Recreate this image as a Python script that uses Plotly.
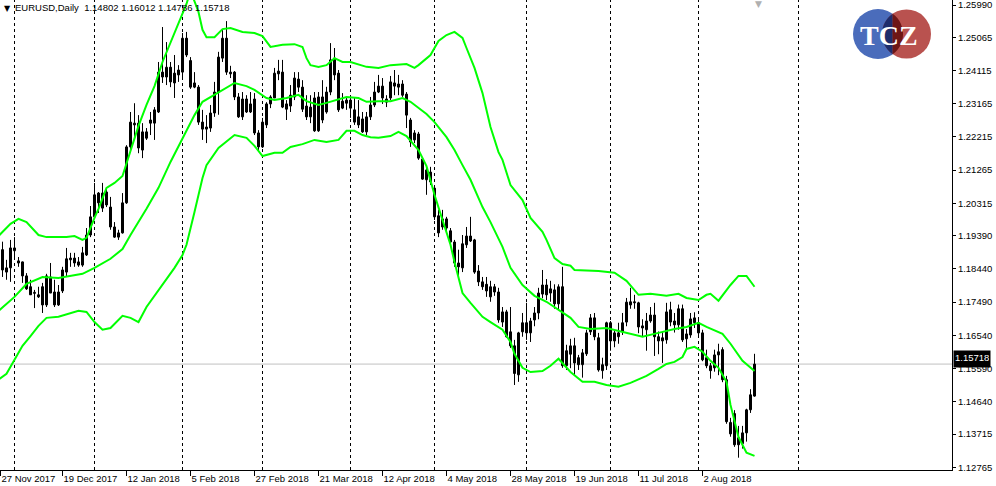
import numpy as np
import plotly.graph_objects as go

# ---------------- data ----------------
bars = list(range(1, 190))  # daily bars, 27 Nov 2017 = bar 0

opens = [1.1899, 1.1835, 1.1847, 1.1896, 1.1861, 1.1864, 1.1824, 1.1793, 1.1774, 1.1764,
         1.1793, 1.1741, 1.1821, 1.1778, 1.1741, 1.1781, 1.1835, 1.1870, 1.1875, 1.1864,
         1.1855, 1.1884, 1.1941, 1.1993, 1.2061, 1.2018, 1.2064, 1.2021, 1.1964, 1.1935,
         1.1947, 1.2033, 1.2193, 1.2256, 1.2261, 1.2184, 1.2236, 1.2270, 1.2261, 1.2293,
         1.2407, 1.2393, 1.2421, 1.2404, 1.2399, 1.2407, 1.2504, 1.2440, 1.2364, 1.2364,
         1.2264, 1.2244, 1.2247, 1.2290, 1.2350, 1.2447, 1.2504, 1.2402, 1.2407, 1.2336,
         1.2279, 1.2330, 1.2293, 1.2330, 1.2233, 1.2193, 1.2256, 1.2316, 1.2333, 1.2402,
         1.2407, 1.2316, 1.2310, 1.2336, 1.2387, 1.2364, 1.2310, 1.2279, 1.2333, 1.2239,
         1.2336, 1.2293, 1.2350, 1.2447, 1.2404, 1.2304, 1.2318, 1.2327, 1.2299, 1.2279,
         1.2273, 1.2236, 1.2279, 1.2313, 1.2350, 1.2333, 1.2321, 1.2333, 1.2376, 1.2364,
         1.2373, 1.2344, 1.2270, 1.2213, 1.2230, 1.2158, 1.2099, 1.2121, 1.2075, 1.1996,
         1.1964, 1.1987, 1.1953, 1.1921, 1.1861, 1.1847, 1.1913, 1.1938, 1.1927, 1.1838,
         1.1807, 1.1800, 1.1764, 1.1778, 1.1778, 1.1692, 1.1721, 1.1664, 1.1624, 1.1541,
         1.1664, 1.1690, 1.1661, 1.1698, 1.1718, 1.1772, 1.1798, 1.1775, 1.1784, 1.1744,
         1.1793, 1.1567, 1.1600, 1.1624, 1.1590, 1.1570, 1.1601, 1.1664, 1.1704, 1.1647,
         1.1553, 1.1567, 1.1690, 1.1638, 1.1650, 1.1664, 1.1692, 1.1741, 1.1747, 1.1747,
         1.1681, 1.1670, 1.1695, 1.1712, 1.1650, 1.1638, 1.1641, 1.1727, 1.1695, 1.1684,
         1.1730, 1.1644, 1.1655, 1.1690, 1.1690, 1.1661, 1.1590, 1.1567, 1.1561, 1.1598,
         1.1613, 1.1527, 1.1372, 1.1430, 1.1361, 1.1344, 1.1375, 1.1441, 1.14802]
highs = [1.1922, 1.1870, 1.1927, 1.1935, 1.1878, 1.1865, 1.1832, 1.1813, 1.1784, 1.1793,
         1.1804, 1.1830, 1.1861, 1.1813, 1.1798, 1.1850, 1.1904, 1.1890, 1.1890, 1.1878,
         1.1907, 1.1961, 1.2024, 1.2090, 1.2064, 1.2090, 1.2075, 1.2050, 1.1978, 1.1956,
         1.2061, 1.2198, 1.2293, 1.2318, 1.2284, 1.2261, 1.2247, 1.2293, 1.2307, 1.2436,
         1.2536, 1.2493, 1.2436, 1.2456, 1.2427, 1.2519, 1.2522, 1.2450, 1.2407, 1.2370,
         1.2299, 1.2284, 1.2313, 1.2379, 1.2465, 1.2528, 1.2553, 1.2425, 1.2410, 1.2347,
         1.2350, 1.2341, 1.2350, 1.2347, 1.2241, 1.2276, 1.2321, 1.2341, 1.2419, 1.2442,
         1.2442, 1.2327, 1.2370, 1.2407, 1.2407, 1.2384, 1.2341, 1.2341, 1.2350, 1.2350,
         1.2384, 1.2365, 1.2490, 1.2476, 1.2413, 1.2347, 1.2333, 1.2333, 1.2333, 1.2327,
         1.2293, 1.2293, 1.2336, 1.2379, 1.2399, 1.2390, 1.2341, 1.2396, 1.2413, 1.2399,
         1.2384, 1.2350, 1.2276, 1.2241, 1.2236, 1.2161, 1.2141, 1.2136, 1.2078, 1.2013,
         1.2013, 1.1993, 1.1961, 1.1927, 1.1899, 1.1941, 1.1964, 1.1993, 1.1930, 1.1855,
         1.1821, 1.1821, 1.1810, 1.1801, 1.1790, 1.1735, 1.1727, 1.1735, 1.1641, 1.1664,
         1.1718, 1.1747, 1.1704, 1.1735, 1.1790, 1.1841, 1.1815, 1.1810, 1.1800, 1.1800,
         1.1850, 1.1627, 1.1644, 1.1647, 1.1598, 1.1615, 1.1670, 1.1715, 1.1718, 1.1661,
         1.1590, 1.1693, 1.1695, 1.1672, 1.1690, 1.1718, 1.1761, 1.1790, 1.1770, 1.1750,
         1.1700, 1.1718, 1.1735, 1.1747, 1.1665, 1.1665, 1.1747, 1.1750, 1.1718, 1.1742,
         1.1742, 1.1672, 1.1718, 1.1720, 1.1700, 1.1670, 1.1613, 1.1575, 1.1613, 1.1630,
         1.1620, 1.1538, 1.1418, 1.1440, 1.1395, 1.1395, 1.1444, 1.1500, 1.16012]
lows = [1.1821, 1.1813, 1.1807, 1.1870, 1.1850, 1.1804, 1.1784, 1.1770, 1.1732, 1.1761,
        1.1718, 1.1735, 1.1775, 1.1735, 1.1738, 1.1775, 1.1821, 1.1850, 1.1850, 1.1850,
        1.1850, 1.1881, 1.1935, 1.1990, 1.2004, 1.2007, 1.2021, 1.1956, 1.1933, 1.1927,
        1.1945, 1.2030, 1.2184, 1.2213, 1.2175, 1.2161, 1.2213, 1.2227, 1.2213, 1.2290,
        1.2376, 1.2370, 1.2364, 1.2333, 1.2379, 1.2385, 1.2450, 1.2359, 1.2361, 1.2256,
        1.2213, 1.2204, 1.2236, 1.2279, 1.2285, 1.2436, 1.2399, 1.2390, 1.2327, 1.2276,
        1.2270, 1.2290, 1.2290, 1.2227, 1.2184, 1.2190, 1.2247, 1.2304, 1.2333, 1.2384,
        1.2304, 1.2270, 1.2293, 1.2327, 1.2350, 1.2293, 1.2270, 1.2261, 1.2236, 1.2236,
        1.2261, 1.2288, 1.2341, 1.2384, 1.2293, 1.2301, 1.2299, 1.2276, 1.2256, 1.2247,
        1.2233, 1.2227, 1.2270, 1.2307, 1.2347, 1.2316, 1.2307, 1.2327, 1.2341, 1.2341,
        1.2336, 1.2247, 1.2193, 1.2204, 1.2156, 1.2099, 1.2056, 1.2084, 1.1984, 1.1935,
        1.1956, 1.1947, 1.1913, 1.1850, 1.1821, 1.1835, 1.1904, 1.1921, 1.1830, 1.1795,
        1.1784, 1.1764, 1.1750, 1.1767, 1.1690, 1.1678, 1.1647, 1.1618, 1.1512, 1.1521,
        1.1650, 1.1641, 1.1635, 1.1680, 1.1700, 1.1760, 1.1755, 1.1750, 1.1730, 1.1727,
        1.1561, 1.1555, 1.1560, 1.1540, 1.1555, 1.1533, 1.1595, 1.1655, 1.1640, 1.1550,
        1.1530, 1.1555, 1.1610, 1.1620, 1.1630, 1.1655, 1.1680, 1.1730, 1.1730, 1.1660,
        1.1650, 1.1610, 1.1690, 1.1595, 1.1600, 1.1575, 1.1630, 1.1680, 1.1662, 1.1670,
        1.1635, 1.1618, 1.1647, 1.1675, 1.1650, 1.1580, 1.1560, 1.1530, 1.1550, 1.1540,
        1.1520, 1.1401, 1.1364, 1.1335, 1.1304, 1.1330, 1.1350, 1.1432, 1.14786]
closes = [1.1841, 1.1847, 1.1904, 1.1904, 1.1867, 1.1824, 1.1787, 1.1770, 1.1777, 1.1770,
          1.1741, 1.1824, 1.1775, 1.1741, 1.1778, 1.1841, 1.1873, 1.1875, 1.1861, 1.1855,
          1.1890, 1.1941, 1.1993, 1.2056, 1.2033, 1.2061, 1.2027, 1.1964, 1.1935, 1.1947,
          1.2033, 1.2193, 1.2264, 1.2261, 1.2190, 1.2236, 1.2218, 1.2261, 1.2299, 1.2407,
          1.2393, 1.2421, 1.2379, 1.2376, 1.2413, 1.2504, 1.2456, 1.2364, 1.2376, 1.2264,
          1.2244, 1.2250, 1.2290, 1.2350, 1.2450, 1.2504, 1.2407, 1.2407, 1.2336, 1.2279,
          1.2330, 1.2293, 1.2316, 1.2233, 1.2193, 1.2264, 1.2316, 1.2336, 1.2404, 1.2410,
          1.2307, 1.2301, 1.2341, 1.2390, 1.2364, 1.2301, 1.2279, 1.2307, 1.2239, 1.2336,
          1.2270, 1.2350, 1.2442, 1.2399, 1.2299, 1.2324, 1.2327, 1.2304, 1.2264, 1.2256,
          1.2236, 1.2279, 1.2313, 1.2350, 1.2367, 1.2367, 1.2330, 1.2379, 1.2367, 1.2373,
          1.2341, 1.2284, 1.2207, 1.2233, 1.2161, 1.2101, 1.2127, 1.2093, 1.1993, 1.1947,
          1.1987, 1.1961, 1.1921, 1.1861, 1.1850, 1.1916, 1.1938, 1.1924, 1.1835, 1.1807,
          1.1793, 1.1781, 1.1793, 1.1793, 1.1698, 1.1721, 1.1650, 1.1624, 1.1545, 1.1661,
          1.1690, 1.1661, 1.1695, 1.1718, 1.1775, 1.1798, 1.1770, 1.1787, 1.1744, 1.1793,
          1.1567, 1.1610, 1.1624, 1.1575, 1.1570, 1.1604, 1.1661, 1.1704, 1.1650, 1.1555,
          1.1570, 1.1690, 1.1638, 1.1661, 1.1661, 1.1690, 1.1749, 1.1750, 1.1750, 1.1678,
          1.1675, 1.1695, 1.1712, 1.1650, 1.1638, 1.1647, 1.1721, 1.1692, 1.1684, 1.1730,
          1.1641, 1.1658, 1.1701, 1.1704, 1.1661, 1.1584, 1.1567, 1.1553, 1.1598, 1.1607,
          1.1527, 1.1407, 1.1405, 1.1341, 1.1341, 1.1375, 1.1441, 1.1484, 1.15718]

# Bollinger bands, sampled along the drawn lines
upper_bar = [0, 3, 5, 7, 10, 12, 17, 19, 21, 22, 24, 25, 27, 29, 31, 33, 35, 37, 39, 41,
             43, 45, 47, 48, 50, 51, 52, 54, 56, 58, 61, 64, 66, 68, 71, 74, 76, 77, 78, 80,
             82, 84, 86, 88, 90, 92, 95, 98, 102, 104, 105, 106, 108, 110, 112, 114, 116, 117, 119, 121,
             123, 125, 126, 128, 131, 133, 136, 137, 139, 141, 143, 144, 150, 154, 157, 160, 163, 167, 170, 172,
             175, 177, 178, 180, 183, 185, 187, 189]
upper_val = [1.1938, 1.1973, 1.1987, 1.1978, 1.1941, 1.1935, 1.1935, 1.1938, 1.1927, 1.1933,
             1.1990, 1.2016, 1.2076, 1.2090, 1.2110, 1.2179, 1.2253, 1.2313, 1.2367, 1.2436,
             1.2493, 1.2550, 1.2602, 1.2640, 1.2579, 1.2528, 1.2507, 1.2507, 1.2530, 1.2533,
             1.2522, 1.2519, 1.2510, 1.2479, 1.2485, 1.2487, 1.2479, 1.2447, 1.2427, 1.2422,
             1.2427, 1.2447, 1.2436, 1.2436, 1.2430, 1.2422, 1.2419, 1.2427, 1.2430, 1.2419,
             1.2427, 1.2436, 1.2456, 1.2496, 1.2513, 1.2522, 1.2505, 1.2476, 1.2419, 1.2347,
             1.2250, 1.2178, 1.2156, 1.2084, 1.2041, 1.1990, 1.1950, 1.1927, 1.1875, 1.1858,
             1.1853, 1.1841, 1.1838, 1.1833, 1.1810, 1.1770, 1.1773, 1.1767, 1.1773, 1.1761,
             1.1755, 1.1770, 1.1773, 1.1753, 1.1798, 1.1824, 1.1824, 1.1793]
mid_bar = [0, 4, 7, 11, 15, 19, 21, 24, 28, 31, 33, 37, 40, 43, 46, 48, 49, 51, 54, 57,
           59, 62, 64, 67, 69, 72, 75, 77, 80, 82, 85, 87, 90, 92, 95, 98, 101, 103, 107, 109,
           112, 114, 116, 118, 121, 123, 126, 128, 131, 134, 137, 140, 143, 145, 148, 152, 156, 161, 165, 169,
           172, 175, 177, 181, 183, 186, 189]
mid_val = [1.1724, 1.1764, 1.1801, 1.1821, 1.1818, 1.1827, 1.1830, 1.1847, 1.1873, 1.1901,
           1.1941, 1.2016, 1.2076, 1.2150, 1.2219, 1.2262, 1.2284, 1.2322, 1.2342, 1.2362,
           1.2376, 1.2367, 1.2356, 1.2333, 1.2327, 1.2333, 1.2342, 1.2324, 1.2313, 1.2319,
           1.2330, 1.2336, 1.2333, 1.2322, 1.2324, 1.2324, 1.2333, 1.2322, 1.2287, 1.2264,
           1.2221, 1.2184, 1.2141, 1.2099, 1.2021, 1.1978, 1.1907, 1.1847, 1.1798, 1.1767,
           1.1750, 1.1727, 1.1704, 1.1678, 1.1672, 1.1675, 1.1664, 1.1650, 1.1661, 1.1672,
           1.1678, 1.1690, 1.1678, 1.1658, 1.1630, 1.1581, 1.1552]
lower_bar = [0, 2, 4, 6, 8, 10, 12, 15, 20, 22, 24, 26, 28, 31, 33, 35, 37, 41, 44, 46,
             47, 49, 50, 51, 52, 55, 59, 62, 64, 66, 69, 71, 73, 76, 79, 82, 85, 87, 89, 91,
             93, 95, 98, 100, 102, 105, 107, 109, 111, 113, 114, 116, 118, 121, 123, 126, 128, 129, 131, 133,
             136, 138, 140, 141, 143, 146, 149, 152, 155, 158, 162, 165, 167, 169, 171, 172, 174, 176, 178, 180,
             182, 183, 185, 187, 189]
lower_val = [1.1527, 1.1544, 1.1584, 1.1624, 1.1652, 1.1681, 1.1704, 1.1707, 1.1724, 1.1721,
             1.1692, 1.1670, 1.1675, 1.1710, 1.1704, 1.1692, 1.1735, 1.1801, 1.1847, 1.1884,
             1.1913, 1.2007, 1.2056, 1.2104, 1.2141, 1.2190, 1.2227, 1.2219, 1.2196, 1.2167,
             1.2176, 1.2176, 1.2193, 1.2201, 1.2213, 1.2207, 1.2213, 1.2239, 1.2239, 1.2227,
             1.2221, 1.2219, 1.2224, 1.2236, 1.2224, 1.2184, 1.2138, 1.2056, 1.1984, 1.1913,
             1.1864, 1.1775, 1.1747, 1.1707, 1.1692, 1.1670, 1.1635, 1.1601, 1.1561, 1.1549,
             1.1552, 1.1567, 1.1587, 1.1575, 1.1549, 1.1521, 1.1521, 1.1512, 1.1507, 1.1518,
             1.1538, 1.1558, 1.1572, 1.1578, 1.1592, 1.1615, 1.1621, 1.1607, 1.1581, 1.1561,
             1.1521, 1.1455, 1.1363, 1.1318, 1.1309]

# axis labels
date_tick_bar = [0.5, 16, 32, 48, 64, 80, 96, 112, 128, 144, 160, 176]
date_tick_text = ["27 Nov 2017", "19 Dec 2017", "12 Jan 2018", "5 Feb 2018", "27 Feb 2018",
                  "21 Mar 2018", "12 Apr 2018", "4 May 2018", "28 May 2018", "19 Jun 2018",
                  "11 Jul 2018", "2 Aug 2018"]
month_start_bar = [4, 24, 46, 66, 88, 109, 132, 153, 175, 200]
price_ticks = [1.25990, 1.25065, 1.24115, 1.23165, 1.22215, 1.21265, 1.20315, 1.19390,
               1.18440, 1.17490, 1.16540, 1.15590, 1.14640, 1.13715, 1.12765]
last_price = 1.15718
symbol_title = "EURUSD,Daily  1.14802 1.16012 1.14786 1.15718"

for arr in (opens, highs, lows, closes):
    assert len(arr) == len(bars), len(arr)
assert len(upper_bar) == len(upper_val)
assert len(mid_bar) == len(mid_val)
assert len(lower_bar) == len(lower_val)

# ---------------- figure ----------------
W, H = 996, 486
PL, PR, PT, PB = 0, 44, 0, 16
plot_w = W - PL - PR
plot_h = H - PT - PB
PX_PER_BAR = 4.0
X0 = 0.375  # bar value at the left edge of the plot (puts candles on the pixel grid)
FONT = "Liberation Sans, Arial, sans-serif"
FS = 9.5
GREEN = "#00FF00"

fig = go.Figure()

# wicks
wx, wy = [], []
for b, lo, hi in zip(bars, lows, highs):
    wx += [b, b, None]
    wy += [lo, hi, None]
fig.add_trace(go.Scatter(x=wx, y=wy, mode="lines", line=dict(color="black", width=1, simplify=False),
                         hoverinfo="skip", showlegend=False))

# bodies
for up in (True, False):
    bx, bh, bb = [], [], []
    for b, o, c in zip(bars, opens, closes):
        if (c >= o) == up:
            bx.append(b)
            bh.append(max(abs(c - o), 0.00001))
            bb.append(min(o, c))
    fig.add_trace(go.Bar(x=bx, y=bh, base=bb, width=0.5,
                         marker=dict(color="white" if up else "black",
                                     line=dict(color="black", width=1)),
                         hoverinfo="skip", showlegend=False))

for bx, by in ((upper_bar, upper_val), (mid_bar, mid_val), (lower_bar, lower_val)):
    fig.add_trace(go.Scatter(x=bx, y=by, mode="lines",
                             line=dict(color=GREEN, width=2),
                             hoverinfo="skip", showlegend=False))

shapes = []
for b in month_start_bar:
    shapes.append(dict(type="line", xref="x", yref="paper", x0=b, x1=b, y0=0, y1=1,
                       line=dict(color="black", width=1, dash="3px,3px"), layer="below"))
shapes.append(dict(type="line", xref="paper", yref="y", x0=0, x1=1, y0=last_price, y1=last_price,
                   line=dict(color="#C0C0C0", width=1), layer="below"))

# --- logo (decoration) ---
def pp(x, y):
    return x / plot_w, 1 - y / plot_h

def circle_shape(cx, cy, r, color):
    x0, y0 = pp(cx - r, cy + r)
    x1, y1 = pp(cx + r, cy - r)
    return dict(type="circle", xref="paper", yref="paper", x0=x0, y0=y0, x1=x1, y1=y1,
                fillcolor=color, line=dict(width=0), layer="above")

ca = (878.0, 34.0, 25.0)
cb = (906.5, 34.0, 24.5)
shapes.append(circle_shape(*ca, "#4A6CBB"))
shapes.append(circle_shape(*cb, "#B9524F"))
xc = ((ca[2] ** 2 - cb[2] ** 2) + (cb[0] ** 2 - ca[0] ** 2)) / (2 * (cb[0] - ca[0]))

def arc_path(c, a0, a1, n=40):
    pts = []
    for a in np.linspace(a0, a1, n):
        pts.append(pp(c[0] + c[2] * np.cos(a), c[1] + c[2] * np.sin(a)))
    return pts

ab = np.arccos((xc - cb[0]) / cb[2])
left_pts = arc_path(cb, -ab, -2 * np.pi + ab)
aa = np.arccos((xc - ca[0]) / ca[2])
right_pts = arc_path(ca, -aa, aa)
for pts, col in ((left_pts, "#1E2D6C"), (right_pts, "#6E1616")):
    d = "M " + " L ".join(f"{x:.5f},{y:.5f}" for x, y in pts) + " Z"
    shapes.append(dict(type="path", xref="paper", yref="paper", path=d,
                       fillcolor=col, line=dict(width=0), layer="above"))

annotations = [
    dict(xref="paper", yref="paper", x=2 / plot_w, y=1 - 2 / plot_h, xanchor="left", yanchor="top",
         text="▼", showarrow=False, font=dict(family="DejaVu Sans", size=8, color="black")),
    dict(xref="paper", yref="paper", x=13 / plot_w, y=1 - 0 / plot_h, xanchor="left", yanchor="top",
         text=symbol_title.replace("  ", "&nbsp; "), showarrow=False,
         font=dict(family=FONT, size=FS, color="black")),
    dict(xref="x", yref="paper", x=190, y=1, xanchor="center", yanchor="top", yshift=3,
         text="▼", showarrow=False, font=dict(family="DejaVu Sans", size=9, color="#B0B0B0")),
    dict(xref="paper", yref="y", x=1, y=last_price, xanchor="left", yanchor="middle",
         xshift=1, yshift=5, height=14, valign="top", text=f"{last_price:.5f}", showarrow=False,
         bgcolor="black", borderpad=1, font=dict(family=FONT, size=FS, color="white")),
    dict(xref="paper", yref="paper", x=889 / plot_w, y=1 - 35 / plot_h, xanchor="center",
         yanchor="middle", text="<b>TCZ</b>", showarrow=False,
         font=dict(family="Liberation Serif, DejaVu Serif, serif", size=28, color="white")),
]

s = (1.25990 - 1.12765) / (467.3 - 5.0)
y_top = 1.25990 + 5.0 * s
y_bot = 1.25990 - (plot_h - 5.0) * s

fig.update_layout(
    width=W, height=H, margin=dict(l=PL, r=PR, t=PT, b=PB, autoexpand=False),
    paper_bgcolor="white", plot_bgcolor="white", showlegend=False, barmode="overlay",
    shapes=shapes, annotations=annotations,
    xaxis=dict(range=[X0, X0 + plot_w / PX_PER_BAR], showgrid=False, zeroline=False,
               showline=True, linecolor="black", linewidth=1, mirror=False,
               ticks="outside", ticklen=5, tickcolor="black", tickwidth=1,
               tickvals=date_tick_bar, ticktext=date_tick_text, tickangle=0,
               ticklabelposition="outside right", automargin=False, ticklabeloverflow="allow",
               tickfont=dict(family=FONT, size=FS, color="black"), fixedrange=True),
    yaxis=dict(side="right", range=[y_bot, y_top], showgrid=False, zeroline=False,
               showline=True, linecolor="black", linewidth=1, automargin=False,
               ticks="outside", ticklen=3, tickcolor="black", ticklabeloverflow="allow",
               tickvals=price_ticks, ticktext=[f"{v:.5f}" for v in price_ticks],
               tickfont=dict(family=FONT, size=FS, color="black"), fixedrange=True),
)

fig.write_html("out.html", config={"displayModeBar": False, "staticPlot": True},
               post_script="document.body.style.margin='0';document.body.style.overflow='hidden';")
